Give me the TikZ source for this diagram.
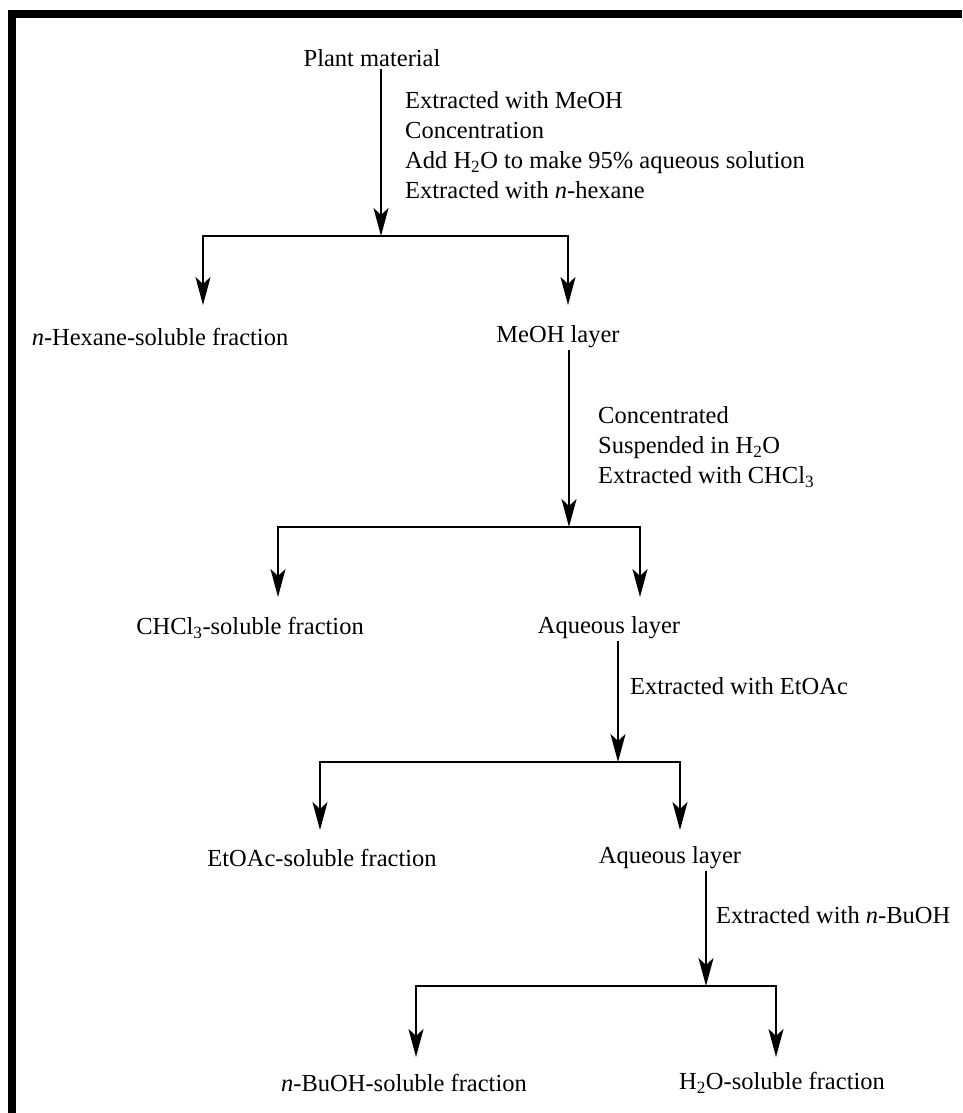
\documentclass[tikz,border=0pt]{standalone}
\usepackage{fontspec}
\setmainfont{Liberation Serif}
\usetikzlibrary{arrows.meta}

\begin{document}
\begin{tikzpicture}[
    x=1pt, y=-1pt,
    >={Stealth[length=28pt, width=15pt, inset=7pt]},
    frac/.style={font=\fontsize{24.5}{30}\selectfont, inner sep=2pt},
    cond/.style={font=\fontsize{24.5}{30}\selectfont, align=left,
                 anchor=west, inner sep=0pt},
    flow/.style={->, line width=2.4pt},
]
\useasboundingbox (0,0) rectangle (962,1113);

% Frame (only top and left edges show)
\draw[line width=8pt] (962,14) -- (12,14) -- (12,1113);

% Fractions
\node[frac] (plant) at (372,58) {Plant material};
\node[frac] (hex) at (160,337) {\textit{n}-Hexane-soluble fraction};
\node[frac] (meoh) at (558,337) {MeOH layer};
\node[frac] (chcl) at (250,628) {CHCl\textsubscript{3}-soluble fraction};
\node[frac] (aqa) at (609,628) {Aqueous layer};
\node[frac] (etoac) at (322,858) {EtOAc-soluble fraction};
\node[frac] (aqb) at (670,858) {Aqueous layer};
\node[frac] (buoh) at (404,1083) {\textit{n}-BuOH-soluble fraction};
\node[frac] (water) at (782,1083) {H\textsubscript{2}O-soluble fraction};

% Junctions on the bars and arrow tips
\coordinate (j1) at (381,236);
\coordinate (t1l) at (203,305);
\coordinate (t1r) at (568,305);
\coordinate (j2) at (569,527);
\coordinate (t2l) at (278,597);
\coordinate (t2r) at (640,597);
\coordinate (j3) at (618,762);
\coordinate (t3l) at (320,830);
\coordinate (t3r) at (680,830);
\coordinate (j4) at (706,986);
\coordinate (t4l) at (416,1057);
\coordinate (t4r) at (776,1057);

% Step 1
\draw[flow] (plant.south -| j1) -- (j1);
\draw[flow] (j1) -| (t1l);
\draw[flow] (j1) -| (t1r);
\node[cond] (c1) at (405,145) {Extracted with MeOH\\Concentration\\
    Add H\textsubscript{2}O to make 95\% aqueous solution\\
    Extracted with \textit{n}-hexane};

% Step 2
\draw[flow] (meoh.south -| j2) -- (j2);
\draw[flow] (j2) -| (t2l);
\draw[flow] (j2) -| (t2r);
\node[cond] (c2) at (598,447) {Concentrated\\Suspended in H\textsubscript{2}O\\
    Extracted with CHCl\textsubscript{3}};

% Step 3
\draw[flow] (aqa.south -| j3) -- (j3);
\draw[flow] (j3) -| (t3l);
\draw[flow] (j3) -| (t3r);
\node[cond] (c3) at (630,686) {Extracted with EtOAc};

% Step 4
\draw[flow] (aqb.south -| j4) -- (j4);
\draw[flow] (j4) -| (t4l);
\draw[flow] (j4) -| (t4r);
\node[cond] (c4) at (716,915) {Extracted with \textit{n}-BuOH};
\end{tikzpicture}
\end{document}
